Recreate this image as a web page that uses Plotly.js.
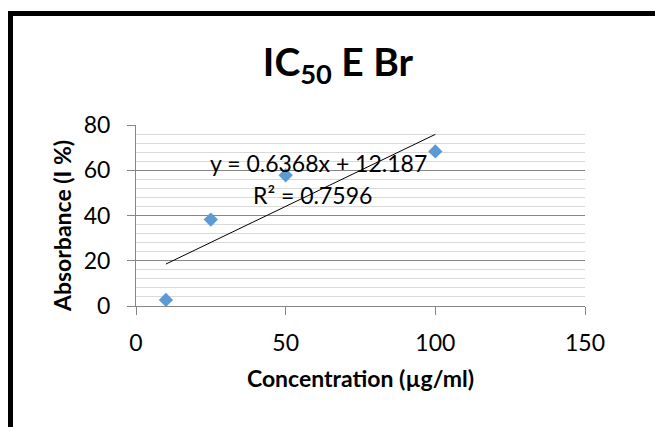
<!DOCTYPE html>
<html>
<head>
<meta charset="utf-8">
<script src="https://cdn.plot.ly/plotly-3.0.1.min.js"></script>
<style>
  html, body { margin: 0; padding: 0; background: #ffffff; }
  #chart { width: 655px; height: 427px; }
</style>
</head>
<body>
<div id="chart"></div>
<script>
// Concentration (µg/ml) and measured inhibition (%)
var concentration = [10, 25, 50, 100];
var inhibition = [2.7, 38.2, 57.8, 68.3];

// Linear trendline parameters
var trendSlope = 0.6368;
var trendIntercept = 12.187;
var rSquared = 0.7596;

var xTicks = [0, 50, 100, 150];
var yTicks = [0, 20, 40, 60, 80];

// Trendline spans the range of the measured concentrations
var trendX = [Math.min.apply(null, concentration), Math.max.apply(null, concentration)];
var trendY = trendX.map(function (x) { return trendSlope * x + trendIntercept; });

var FONT = 'Lato, "Open Sans", "DejaVu Sans", sans-serif';

var traces = [
  {
    x: trendX,
    y: trendY,
    mode: 'lines',
    type: 'scatter',
    line: { color: '#000000', width: 1 },
    hoverinfo: 'skip',
    showlegend: false
  },
  {
    x: concentration,
    y: inhibition,
    mode: 'markers',
    type: 'scatter',
    marker: { symbol: 'diamond', size: 11, color: '#5b9bd5' },
    showlegend: false
  }
];

// Frame around the chart (top and left edges visible)
var plotL = 136, plotR = 585, plotT = 124.5, plotB = 306.3;
var pw = plotR - plotL, ph = plotB - plotT;
function px(x) { return (x - plotL) / pw; }
function py(y) { return (plotB - y) / ph; }

var layout = {
  width: 655,
  height: 427,
  margin: { l: plotL, r: 655 - plotR, t: plotT, b: 427 - plotB, pad: 0 },
  paper_bgcolor: '#ffffff',
  plot_bgcolor: '#ffffff',
  font: { family: FONT, color: '#000000', size: 23 },
  title: {
    text: '<b>IC<sub>50</sub> E Br</b>',
    font: { family: FONT, size: 39, color: '#000000' },
    x: px(338),
    xref: 'paper',
    xanchor: 'center',
    y: 1 - 62 / 427,
    yref: 'container',
    yanchor: 'middle'
  },
  xaxis: {
    range: [0, 150],
    tickvals: xTicks,
    ticktext: xTicks.map(String),
    showgrid: false,
    zeroline: false,
    showline: true,
    linecolor: '#868686',
    linewidth: 1,
    ticks: 'outside',
    ticklen: 8,
    tickcolor: '#868686',
    ticklabelstandoff: 8,
    tickfont: { family: FONT, size: 23, color: '#000000' },
    title: {
      text: '<b>Concentration (µg/ml)</b>',
      font: { family: FONT, size: 23, color: '#000000' },
      standoff: 16
    },
    automargin: false,
    fixedrange: true
  },
  yaxis: {
    range: [0, 80],
    tickvals: yTicks,
    ticktext: yTicks.map(String),
    showgrid: true,
    gridcolor: '#868686',
    gridwidth: 1,
    minor: { dtick: 4, showgrid: true, gridcolor: '#d9d9d9', gridwidth: 1 },
    zeroline: false,
    showline: true,
    linecolor: '#868686',
    linewidth: 1,
    ticks: 'outside',
    ticklen: 8,
    tickcolor: '#868686',
    ticklabelstandoff: 12,
    tickfont: { family: FONT, size: 23, color: '#000000' },
    automargin: false,
    fixedrange: true
  },
  annotations: [
    {
      // y-axis title, placed a little below the plot centre
      x: px(62), y: py(226), xref: 'paper', yref: 'paper',
      text: '<b>Absorbance (I %)</b>',
      textangle: -90,
      showarrow: false,
      font: { family: FONT, size: 23, color: '#000000' },
      xanchor: 'center', yanchor: 'middle'
    },
    {
      x: 61, y: 63.1, xref: 'x', yref: 'y',
      text: 'y = ' + trendSlope + 'x + ' + trendIntercept,
      showarrow: false,
      font: { family: FONT, size: 23, color: '#000000' },
      xanchor: 'center', yanchor: 'middle'
    },
    {
      x: 59, y: 49, xref: 'x', yref: 'y',
      text: 'R² = ' + rSquared,
      showarrow: false,
      font: { family: FONT, size: 23, color: '#000000' },
      xanchor: 'center', yanchor: 'middle'
    }
  ],
  shapes: [
    {
      type: 'path',
      xref: 'paper', yref: 'paper',
      path: 'M ' + px(10.5) + ' ' + py(440) +
            ' L ' + px(10.5) + ' ' + py(12.5) +
            ' L ' + px(670) + ' ' + py(12.5),
      line: { color: '#000000', width: 5 },
      layer: 'above'
    }
  ],
  showlegend: false
};

Plotly.newPlot('chart', traces, layout, { displayModeBar: false, staticPlot: true });
</script>
</body>
</html>
